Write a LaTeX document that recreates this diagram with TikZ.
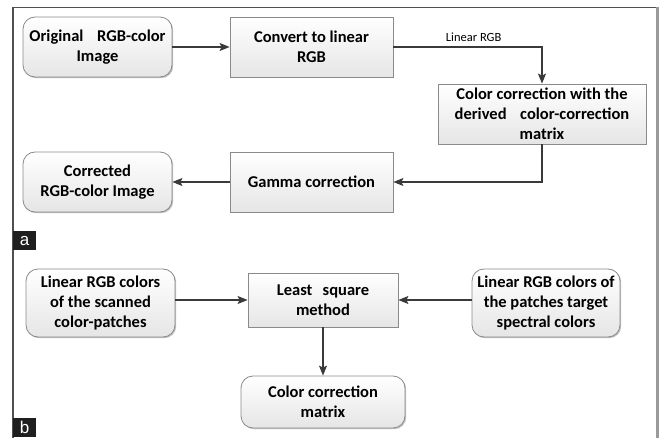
\documentclass[tikz,border=0pt]{standalone}
\usepackage{fontspec}
\setmainfont{Carlito}
\newfontfamily\labelfont{Liberation Sans}
\usetikzlibrary{arrows.meta,shadows}

\definecolor{boxline}{HTML}{8A8A8A}
\definecolor{arrowcol}{HTML}{3A3A3A}
\definecolor{framecol}{HTML}{505050}
\definecolor{barcol}{HTML}{9A9A9A}

\tikzset{
  blockbase/.style={draw=boxline, line width=0.8pt, top color=white, bottom color=black!10,
    align=center, font=\fontsize{16.5}{20}\selectfont\bfseries, inner sep=2pt,
    drop shadow={shadow xshift=1.2pt, shadow yshift=-1.2pt, opacity=0.25, fill=black}},
  roundbox/.style={blockbase, rounded corners=12pt},
  squarebox/.style={blockbase},
  flow/.style={draw=arrowcol, line width=1.1pt, -{Stealth[length=10pt,width=8pt,inset=2pt]}},
  panellabel/.style={fill=black!88, text=white, font=\labelfont\fontsize{17}{17}\selectfont,
    inner sep=0pt, minimum width=23pt, minimum height=19pt, anchor=north west}
}

\begin{document}
\begin{tikzpicture}[x=1pt, y=-1pt]
  \useasboundingbox (0,0) rectangle (661,438);

  % outer frame
  \draw[framecol, line width=1.2pt] (13,438) -- (13,7.5) -- (657,7.5);
  \fill[barcol] (655.5,7) rectangle (659,438);

  % panel a
  \node[roundbox, minimum width=149pt, minimum height=60pt] (orig) at (97.5,47)
    {Original\hspace{0.6em} RGB-color\\Image};
  \node[squarebox, minimum width=163pt, minimum height=60pt] (lin) at (311.5,47)
    {Convert to linear\\RGB};
  \node[squarebox, minimum width=208pt, minimum height=60pt] (ccm) at (542,114)
    {Color correction with the\\derived\hspace{0.6em} color-correction\\matrix};
  \node[squarebox, minimum width=163pt, minimum height=60pt] (gam) at (311.5,182)
    {Gamma correction};
  \node[roundbox, minimum width=149pt, minimum height=60pt] (corr) at (97.5,182)
    {Corrected\\RGB-color Image};

  \draw[flow] (orig.east) -- (lin.west);
  \draw[flow] (lin.east) -| node[pos=0.27, above=1.5pt, font=\fontsize{12.5}{12.5}\selectfont] (linlabel) {Linear RGB} (ccm.north);
  \draw[flow] (ccm.south) |- (gam.east);
  \draw[flow] (gam.west) -- (corr.east);

  \node[panellabel] (labela) at (13,231) {a};

  % panel b
  \node[roundbox, minimum width=149pt, minimum height=68pt] (scan) at (100.5,303)
    {Linear RGB colors\\of the scanned\\color-patches};
  \node[squarebox, minimum width=150pt, minimum height=54pt] (lsq) at (323,300)
    {Least\hspace{0.4em} square\\method};
  \node[roundbox, minimum width=148pt, minimum height=68pt] (targ) at (546,303)
    {Linear RGB colors of\\the patches target\\spectral colors};
  \node[roundbox, minimum width=164pt, minimum height=52pt] (mat) at (323,402)
    {Color correction\\matrix};

  \draw[flow] (scan.east |- lsq.west) -- (lsq.west);
  \draw[flow] (targ.west |- lsq.east) -- (lsq.east);
  \draw[flow] (lsq.south) -- (mat.north);

  \node[panellabel] (labelb) at (13,418) {b};
\end{tikzpicture}
\end{document}
